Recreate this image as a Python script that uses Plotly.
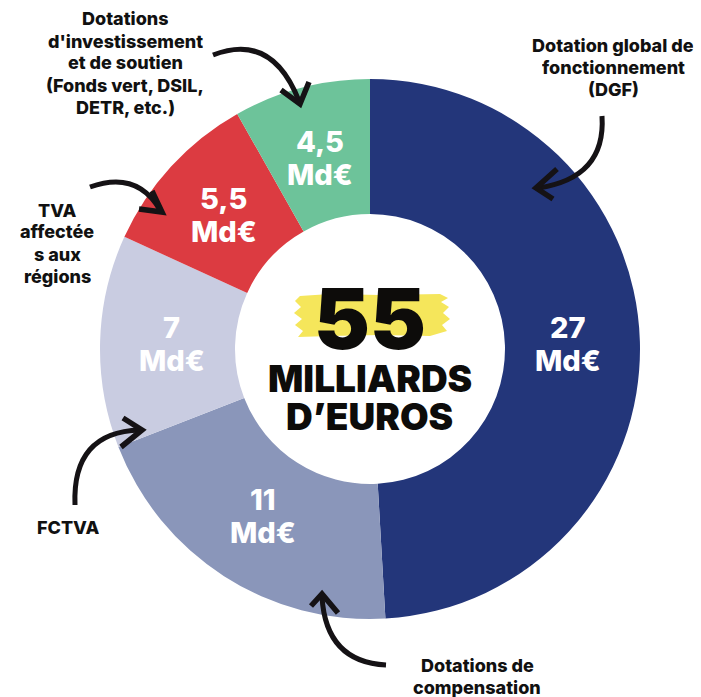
import math
import plotly.graph_objects as go

# ---------------- data ----------------
categories = [
    "Dotation global de fonctionnement (DGF)",
    "Dotations de compensation",
    "FCTVA",
    "TVA affectées aux régions",
    "Dotations d'investissement et de soutien",
]
values = [27, 11, 7, 5.5, 4.5]
value_labels = ["27", "11", "7", "5,5", "4,5"]
unit_label = "Md€"
total_label = "55"
total_sub1 = "MILLIARDS"
total_sub2 = "D’EUROS"
outer_label_lines = [
    ["Dotation global de", "fonctionnement", "(DGF)"],
    ["Dotations de", "compensation"],
    ["FCTVA"],
    ["TVA", "affectée", "s aux", "régions"],
    ["Dotations", "d'investissement", "et de soutien", "(Fonds vert, DSIL,", "DETR, etc.)"],
]
colors = ["#23367a", "#8a96ba", "#c9cce1", "#dc3b41", "#6dc39a"]

# ---------------- layout helpers ----------------
W, H = 701, 697
CX, CY, R = 370, 349, 270   # pie centre / radius in pixels
HOLE = 0.5
FONT = "Inter"
INK = "#0d0c0a"


def X(px):
    return px / W


def Y(py):
    return 1 - py / H


fig = go.Figure()
fig.add_trace(go.Pie(
    labels=categories,
    values=values,
    sort=False,
    direction="clockwise",
    rotation=0,
    hole=HOLE,
    marker=dict(colors=colors, line=dict(width=0)),
    textinfo="none",
    hoverinfo="label+value",
    showlegend=False,
    domain=dict(x=[X(CX - R), X(CX + R)], y=[Y(CY + R), Y(CY - R)]),
))

annotations = []


def txt(px, py, t, size, color=INK, weight=800, h=None):
    d = dict(x=X(px), y=Y(py), xref="paper", yref="paper", text=t,
             showarrow=False, xanchor="center", yanchor="middle",
             font=dict(family=FONT, size=size, color=color, weight=weight))
    if h is not None:
        d["height"] = h
    annotations.append(d)


# slice value labels positioned from the data (mid-angle of each slice)
total = sum(values)
cum = 0.0
r_lab = 0.735 * R
for v, lab in zip(values, value_labels):
    f = (cum + v / 2) / total
    th = 2 * math.pi * f
    px = CX + r_lab * math.sin(th)
    py = CY - r_lab * math.cos(th)
    txt(px, py - 16.5, lab, 29, "white", 800, 32)
    txt(px, py + 16.5, unit_label, 29, "white", 800, 32)
    cum += v

# centre text
txt(370, 318, total_label, 84, INK, 900, 64)
txt(370, 378, total_sub1, 37, INK, 900, 34)
txt(370, 416, total_sub2, 37, INK, 900, 34)

# outer category labels (centre x, first-line y)
outer_pos = [(613, 45), (477, 665), (68, 527), (57, 210), (125, 19)]
LINE = 22
for (px, py0), lines in zip(outer_pos, outer_label_lines):
    for i, line in enumerate(lines):
        txt(px, py0 + i * LINE, line, 18, "#111111", 800, 21)

shapes = []

# yellow brush stroke behind "55"
brush_pts = [(300, 296), (330, 294), (380, 295), (440, 294), (448, 298), (441, 302),
             (449, 307), (443, 313), (450, 319), (442, 325), (447, 331), (430, 336),
             (380, 335), (330, 336), (298, 337), (303, 331), (295, 325), (302, 319),
             (294, 313), (301, 307), (295, 301)]
path = "M " + " L ".join(f"{X(a):.5f},{Y(b):.5f}" for a, b in brush_pts) + " Z"
shapes.append(dict(type="path", xref="paper", yref="paper", path=path,
                   fillcolor="#f5e65b", line=dict(width=0), layer="above"))


def curve(p0, c, p1):
    return (f"M {X(p0[0]):.5f},{Y(p0[1]):.5f} Q {X(c[0]):.5f},{Y(c[1]):.5f} "
            f"{X(p1[0]):.5f},{Y(p1[1]):.5f}")


def head(w1, tip, w2):
    return (f"M {X(w1[0]):.5f},{Y(w1[1]):.5f} L {X(tip[0]):.5f},{Y(tip[1]):.5f} "
            f"L {X(w2[0]):.5f},{Y(w2[1]):.5f}")


arrows = [
    ((213, 55), (272, 32), (299, 101), (281, 90), (300, 104), (309, 82)),
    ((602, 116), (606, 178), (538, 188), (557, 169), (536, 188), (553, 199)),
    ((90, 187), (137, 170), (160, 210), (152, 191), (162, 212), (139, 209)),
    ((75, 505), (72, 432), (140, 430), (123, 418), (142, 430), (121, 447)),
    ((386, 665), (326, 662), (322, 597), (311, 606), (322, 594), (338, 613)),
]
for p0, c, p1, w1, tip, w2 in arrows:
    shapes.append(dict(type="path", xref="paper", yref="paper", path=curve(p0, c, p1),
                       line=dict(color="#151215", width=5), layer="above"))
    shapes.append(dict(type="path", xref="paper", yref="paper", path=head(w1, tip, w2),
                       line=dict(color="#151215", width=5.5), layer="above"))

fig.update_layout(
    width=W, height=H,
    margin=dict(l=0, r=0, t=0, b=0),
    paper_bgcolor="white", plot_bgcolor="white",
    annotations=annotations, shapes=shapes,
    showlegend=False,
)

fig.write_html("out.html")
